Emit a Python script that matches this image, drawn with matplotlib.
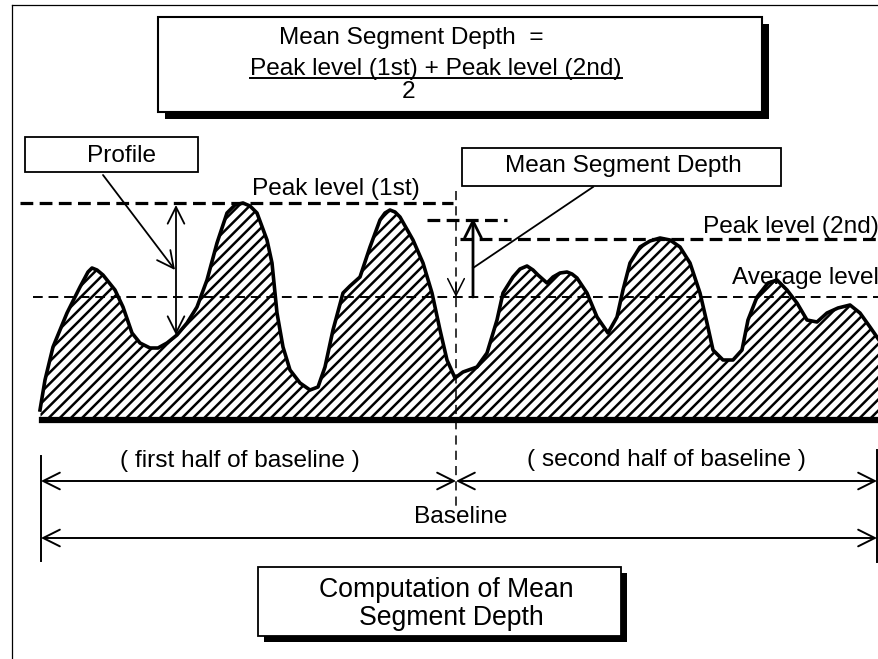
import matplotlib
matplotlib.use("Agg")
import matplotlib.pyplot as plt
from matplotlib.patches import Rectangle

plt.rcParams['font.family'] = ['Liberation Sans', 'DejaVu Sans']
plt.rcParams['hatch.linewidth'] = 1.8

# profile outline (pixel coords, y grows downward)
prof_x = [41, 40, 45, 53, 67, 80, 88, 92, 97, 103, 115, 123, 132, 140, 150, 158, 167, 177, 187, 197,
          207, 217, 227, 235, 243, 250, 257, 267, 272, 277, 283, 290, 300, 310, 318, 325, 333, 343,
          350, 360, 370, 380, 385, 390, 395, 400, 413, 423, 432, 440, 447, 455, 463, 477, 487, 497,
          503, 513, 520, 527, 533, 538, 547, 553, 560, 567, 572, 577, 587, 597, 608, 617, 623, 630,
          640, 650, 660, 670, 680, 690, 700, 707, 713, 723, 733, 742, 748, 757, 768, 777, 787, 797,
          807, 817, 827, 838, 850, 860, 870, 879, 879]
prof_y = [420, 410, 380, 347, 313, 287, 272, 268, 270, 275, 290, 307, 333, 343, 348, 348, 343, 335,
          323, 307, 280, 243, 213, 205, 203, 206, 213, 240, 263, 313, 347, 370, 383, 390, 387, 367,
          330, 293, 286, 277, 247, 220, 213, 210, 212, 217, 240, 263, 293, 330, 360, 378, 372, 367,
          353, 320, 293, 277, 269, 266, 270, 275, 283, 277, 273, 272, 274, 278, 293, 317, 333, 317,
          290, 263, 247, 241, 238, 240, 247, 263, 293, 323, 350, 360, 360, 350, 320, 297, 283, 280,
          290, 303, 320, 322, 313, 308, 305, 313, 327, 340, 420]

baseline_y = 420
peak1_y = 203
peak2_y = 239
mean_y = 220
avg_y = 297
mid_x = 456
left_x = 41
right_x = 877

fig = plt.figure(figsize=(8.79, 6.59), dpi=100)
ax = fig.add_axes([0, 0, 1, 1])
ax.set_xlim(0, 879)
ax.set_ylim(659, 0)
ax.axis('off')

FS = 17.6
K = 'black'

# outer frame
ax.plot([12, 879], [5, 5], color=K, lw=0.9)
ax.plot([12, 12], [5, 659], color=K, lw=0.9)


def box(x0, y0, x1, y1, shadow=0, lw=1.3):
    if shadow:
        ax.add_patch(Rectangle((x0 + shadow, y0 + shadow), x1 - x0, y1 - y0,
                               facecolor=K, edgecolor=K, lw=0, zorder=3))
    ax.add_patch(Rectangle((x0, y0), x1 - x0, y1 - y0, facecolor='white',
                           edgecolor=K, lw=lw, zorder=4))


def arrow(x0, y0, x1, y1, style='->', lw=1.4, ls='-'):
    ax.annotate('', xy=(x1, y1), xytext=(x0, y0),
                arrowprops=dict(arrowstyle=style + ',head_length=1.0,head_width=0.5',
                                color=K, lw=lw, ls=ls, shrinkA=0, shrinkB=0,
                                mutation_scale=12), zorder=6)


# formula box
box(158, 17, 762, 112, shadow=7, lw=1.5)
ax.text(279, 44, 'Mean Segment Depth  =', fontsize=FS, ha='left', va='baseline', zorder=5)
ax.text(250, 75, 'Peak level (1st) + Peak level (2nd)', fontsize=FS, ha='left',
        va='baseline', zorder=5)
ax.plot([250, 622], [78, 78], color=K, lw=1.4, zorder=5)
ax.text(409, 98, '2', fontsize=FS, ha='center', va='baseline', zorder=5)

# label boxes
box(25, 137, 198, 172)
ax.text(87, 162, 'Profile', fontsize=FS, ha='left', va='baseline', zorder=5)
box(462, 148, 781, 186)
ax.text(505, 172, 'Mean Segment Depth', fontsize=FS, ha='left', va='baseline', zorder=5)

# profile
ax.fill(prof_x, prof_y, facecolor='white', edgecolor=K, hatch='///', lw=0, zorder=1)
ax.plot(prof_x[1:-1], prof_y[1:-1], color=K, lw=2.6, zorder=2, solid_joinstyle='round')
ax.plot([42, 879], [baseline_y, baseline_y], color=K, lw=4.5, zorder=2)

# level lines
ax.plot([20, 453], [peak1_y, peak1_y], color=K, lw=2.3, ls=(0, (4, 2)), zorder=3)
ax.plot([460, 879], [peak2_y, peak2_y], color=K, lw=2.3, ls=(0, (4, 2)), zorder=3)
ax.plot([427, 507], [mean_y, mean_y], color=K, lw=2.3, ls=(0, (4, 2)), zorder=3)
ax.plot([33, 879], [avg_y, avg_y], color=K, lw=1.4, ls=(0, (5, 3)), zorder=3)
ax.plot([mid_x, mid_x], [191, 507], color=K, lw=1.1, ls=(0, (6, 4)), zorder=3)
arrow(mid_x, 282, mid_x, avg_y, lw=1.1)

ax.text(252, 195, 'Peak level (1st)', fontsize=FS, ha='left', va='baseline', zorder=5)
ax.text(703, 233, 'Peak level (2nd)', fontsize=FS, ha='left', va='baseline', zorder=5)
ax.text(732, 284, 'Average level', fontsize=FS, ha='left', va='baseline', zorder=5)

# profile pointers
arrow(176, 335, 176, 205, style='<->', lw=1.3)
arrow(103, 175, 175, 270, lw=1.3)
arrow(473, avg_y, 473, 218, lw=2.0)
ax.plot([593, 473], [187, 268], color=K, lw=1.3, zorder=6)

# baseline dimensions
ax.plot([left_x, left_x], [456, 561], color=K, lw=1.4)
ax.plot([right_x, right_x], [450, 562], color=K, lw=1.4)
arrow(left_x, 481, mid_x, 481, style='<->')
arrow(mid_x, 481, right_x, 481, style='<->')
arrow(left_x, 538, right_x, 538, style='<->')
ax.text(120, 467, '( first half of baseline )', fontsize=FS, ha='left', va='baseline')
ax.text(527, 466, '( second half of baseline )', fontsize=FS, ha='left', va='baseline')
ax.text(414, 523, 'Baseline', fontsize=FS, ha='left', va='baseline', zorder=5)

# caption box
box(258, 567, 621, 636, shadow=6)
ax.text(446, 597, 'Computation of Mean', fontsize=19.2, ha='center', va='baseline', zorder=5)
ax.text(451, 625, 'Segment Depth', fontsize=19.2, ha='center', va='baseline', zorder=5)

fig.savefig('out.png', dpi=100)
